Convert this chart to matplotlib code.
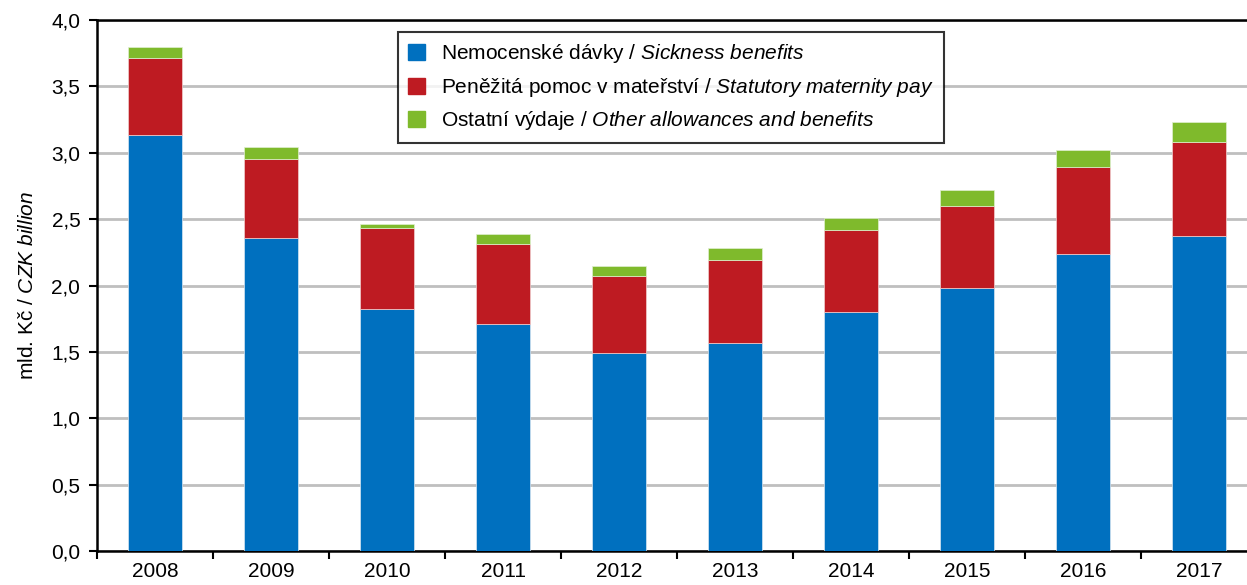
import numpy as np
import matplotlib
matplotlib.use("Agg")
import matplotlib.pyplot as plt
import matplotlib.patches as mpatches

plt.rcParams["font.family"] = ["Liberation Sans", "DejaVu Sans"]
plt.rcParams["mathtext.fontset"] = "custom"
plt.rcParams["mathtext.rm"] = "Liberation Sans"
plt.rcParams["mathtext.it"] = "Liberation Sans:italic"

# ── data (CZK billion) ──
years = ["2008", "2009", "2010", "2011", "2012", "2013", "2014", "2015", "2016", "2017"]
sickness = [3.13, 2.36, 1.82, 1.71, 1.49, 1.57, 1.80, 1.98, 2.24, 2.37]
maternity = [0.58, 0.59, 0.61, 0.60, 0.58, 0.62, 0.62, 0.62, 0.65, 0.71]
other = [0.09, 0.09, 0.03, 0.08, 0.08, 0.09, 0.09, 0.12, 0.13, 0.15]

labels = [
    r"Nemocenské dávky / $\mathit{Sickness\ benefits}$",
    r"Peněžitá pomoc v mateřství / $\mathit{Statutory\ maternity\ pay}$",
    r"Ostatní výdaje / $\mathit{Other\ allowances\ and\ benefits}$",
]
colors = ["#0070BF", "#BE1B22", "#7FBA2C"]

W, H = 1247, 585
fig = plt.figure(figsize=(W / 100, H / 100), dpi=100)
# axes runs past the right edge, as in the (cropped) original
ax = fig.add_axes([97 / W, (H - 551) / H, 1160 / W, 531 / H])

x = np.arange(len(years))
bw = 0.47
b1 = np.array(sickness)
b2 = b1 + np.array(maternity)
ax.bar(x, sickness, bw, color=colors[0], edgecolor="#d8e6f2", linewidth=0.5, zorder=3)
ax.bar(x, maternity, bw, bottom=b1, color=colors[1], edgecolor="#f0d0d0", linewidth=0.5, zorder=3)
ax.bar(x, other, bw, bottom=b2, color=colors[2], edgecolor="#e0f0d0", linewidth=0.5, zorder=3)

ax.set_xlim(-0.5, 9.5)
ax.set_ylim(0, 4.0)
yt = np.arange(0, 4.01, 0.5)
ax.set_yticks(yt)
ax.set_yticklabels([f"{v:.1f}".replace(".", ",") for v in yt])
ax.set_xticks(np.arange(-0.5, 9.6, 1.0))
ax.set_xticklabels([])
ax.set_xticks(x, minor=True)
ax.set_xticklabels(years, minor=True)
ax.tick_params(axis="x", which="minor", length=0, pad=8, labelsize=15)
ax.tick_params(axis="x", which="major", length=6, width=1.5, direction="out")
ax.tick_params(axis="y", length=6, width=1.5, direction="out", pad=6, labelsize=15)

ax.grid(True, axis="y", color="#BFBFBF", linewidth=2, zorder=0)
for s in ["left", "bottom", "top"]:
    ax.spines[s].set_linewidth(1.8)
    ax.spines[s].set_color("black")
ax.spines["right"].set_visible(False)

ax.set_ylabel(r"mld. Kč / $\mathit{CZK\ billion}$", fontsize=15, labelpad=10)

handles = [mpatches.Patch(color=c) for c in colors]
leg = ax.legend(handles, labels, loc="upper left", bbox_to_anchor=(301 / 1160, 1 - 12 / 531),
                fontsize=15, frameon=True, fancybox=False, edgecolor="black",
                handlelength=0.8, handleheight=0.8, handletextpad=0.75,
                borderpad=0.5, labelspacing=0.5, borderaxespad=0)
leg.get_frame().set_linewidth(1.5)
leg.set_zorder(5)

fig.savefig("out.png", dpi=100, facecolor="white")
